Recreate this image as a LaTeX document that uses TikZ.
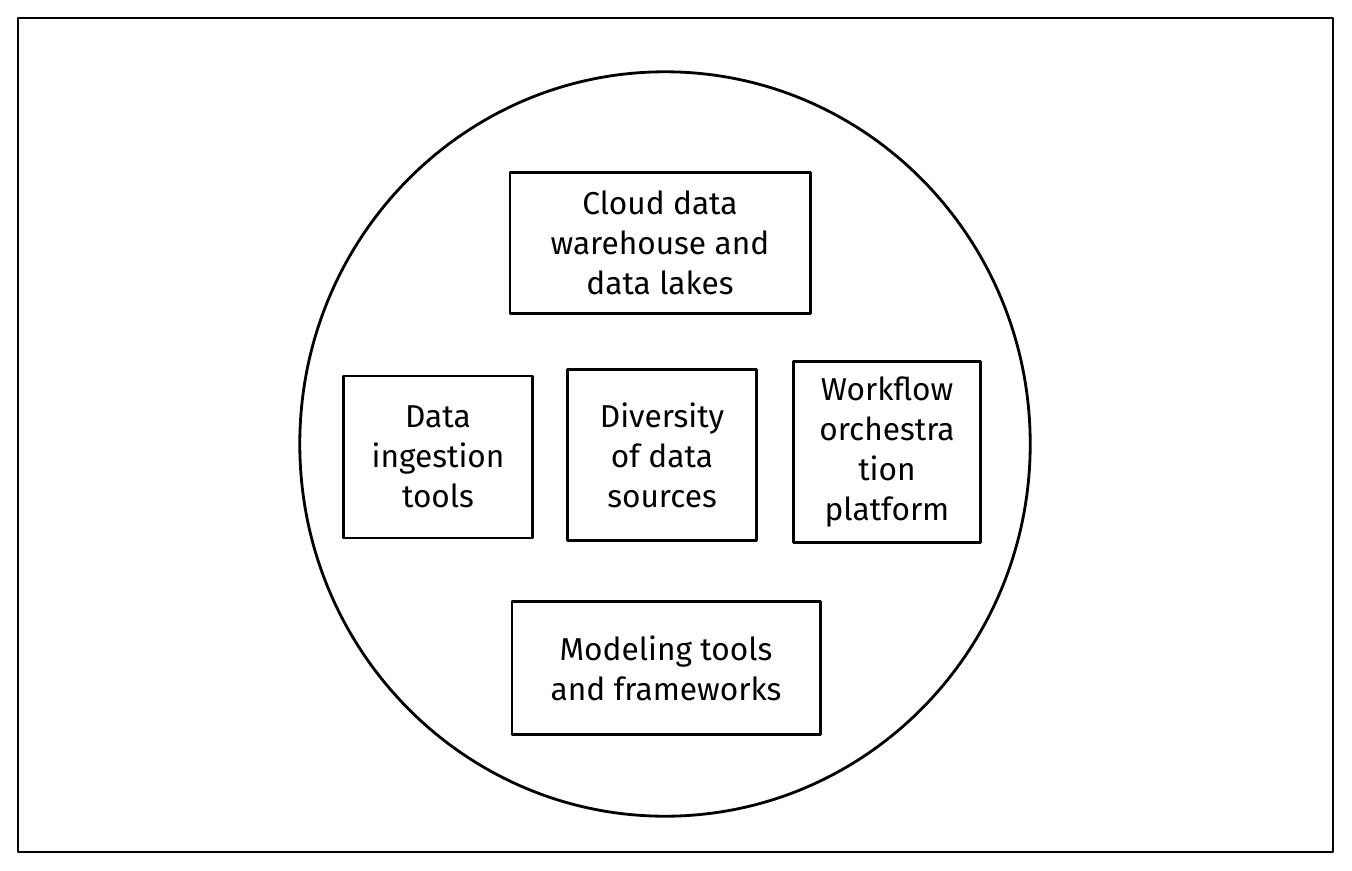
\documentclass[tikz,border=0pt]{standalone}
\usepackage{fontspec}
\setmainfont{Fira Sans}
\begin{document}
\begin{tikzpicture}[x=0.01cm, y=-0.01cm, line join=round, line cap=round, font=\fontsize{9}{11.4}\selectfont]
	\tikzset{box style/.style={draw, line width=0.8pt, align=center, inner sep=0pt}}
	\useasboundingbox (0,0) rectangle (1352,870);
	\path (18,18) coordinate (TL)
	(1333,852) coordinate (BR)
	(665,444) coordinate (C)
	;
	\draw[line width=0.8pt] (TL) rectangle (BR);
	\draw[line width=0.8pt] (C) ellipse (0.365cm*10 and 0.372cm*10);
	\node[box style, minimum width=3.00cm, minimum height=1.41cm] (cloud) at (660,243) {Cloud data\\warehouse and\\data lakes};
	\node[box style, minimum width=1.89cm, minimum height=1.62cm] (ingest) at (438,457) {Data\\ingestion\\tools};
	\node[box style, minimum width=1.89cm, minimum height=1.71cm] (div) at (662,455) {Diversity\\of data\\sources};
	\node[box style, minimum width=1.87cm, minimum height=1.81cm] (flow) at (887,452) {Workflow\\orchestra\\tion\\platform};
	\node[box style, minimum width=3.08cm, minimum height=1.33cm] (model) at (666,668) {Modeling tools\\and frameworks};
\end{tikzpicture}
\end{document}
